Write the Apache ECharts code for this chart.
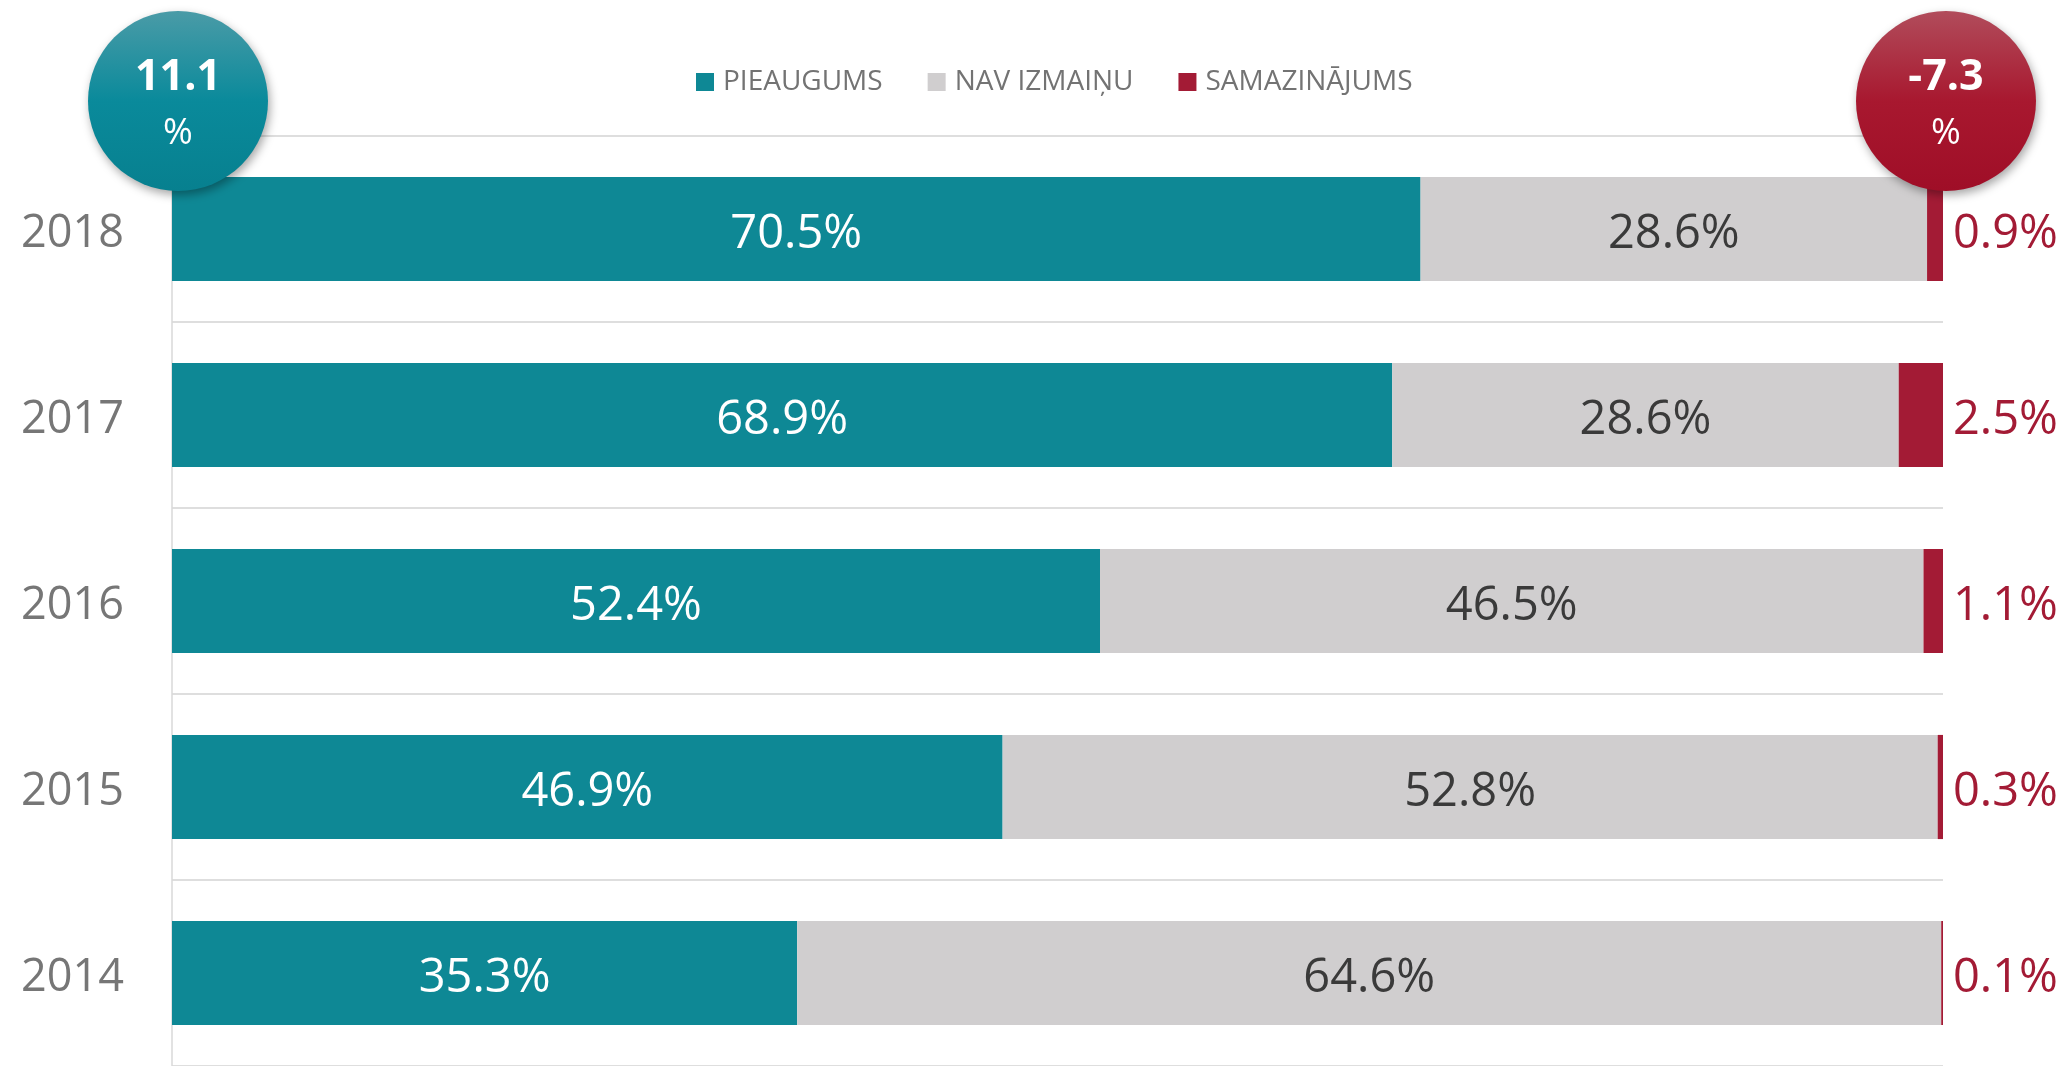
<!DOCTYPE html>
<html>
<head>
<meta charset="utf-8">
<title>Pieaugums / samazinājums</title>
<script src="https://cdn.jsdelivr.net/npm/echarts@6/dist/echarts.min.js"></script>
<style>
    html, body { margin: 0; padding: 0; background: #fff; }
    #chart { width: 2072px; height: 1066px; }
</style>
</head>
<body>
<div id="chart"></div>
<script>
// 数据
const years = ['2018', '2017', '2016', '2015', '2014'];
const increase = [70.5, 68.9, 52.4, 46.9, 35.3];
const noChange = [28.6, 28.6, 46.5, 52.8, 64.6];
const decrease = [0.9, 2.5, 1.1, 0.3, 0.1];
const seriesNames = ['PIEAUGUMS', 'NAV IZMAIŅU', 'SAMAZINĀJUMS'];
const badgeValues = ['11.1', '-7.3'];

const TEAL = '#0e8895';
const GREY = '#d0cecf';
const RED = '#a31b35';
const FONT = "'Open Sans', 'Noto Sans', sans-serif";

const chart = echarts.init(document.getElementById('chart'));

const pct = (p) => p.value.toFixed(1) + '%';

/** 圆形标记 */
const badge = (cx, value, top, bottom) => [
    {
        type: 'circle',
        z: 100,
        shape: { cx: cx, cy: 101, r: 90 },
        style: {
            fill: new echarts.graphic.LinearGradient(0, 0, 0, 1, [
                { offset: 0, color: top },
                { offset: 0.5, color: bottom[0] },
                { offset: 1, color: bottom[1] }
            ]),
            shadowBlur: 10,
            shadowOffsetX: 2,
            shadowOffsetY: 4,
            shadowColor: 'rgba(0,0,0,0.35)'
        }
    },
    {
        type: 'text',
        z: 101,
        x: cx,
        y: 78,
        style: {
            text: value,
            fill: '#fff',
            font: 'bold 43px ' + FONT,
            align: 'center',
            verticalAlign: 'middle'
        }
    },
    {
        type: 'text',
        z: 101,
        x: cx,
        y: 134,
        style: {
            text: '%',
            fill: '#fff',
            font: '36px ' + FONT,
            align: 'center',
            verticalAlign: 'middle'
        }
    }
];

const options = {
    animation: false,
    backgroundColor: '#fff',
    textStyle: { fontFamily: FONT },
    legend: {
        data: seriesNames,
        left: 696,
        top: 68,
        padding: 0,
        itemWidth: 18,
        itemHeight: 18,
        itemGap: 45,
        icon: 'rect',
        textStyle: {
            color: '#737373',
            fontSize: 28,
            padding: [0, 0, 0, 4],
            fontFamily: FONT
        }
    },
    grid: {
        left: 172,
        right: 129,
        top: 136,
        bottom: -5,
        containLabel: false
    },
    xAxis: {
        type: 'value',
        min: 0,
        max: 100,
        show: false
    },
    yAxis: {
        type: 'category',
        data: years,
        inverse: true,
        axisTick: { show: false },
        axisLine: { show: true, lineStyle: { color: '#d9d9d9', width: 1.5 } },
        axisLabel: {
            margin: 48,
            formatter: (v) => '{y|' + v + '}',
            rich: {
                y: { color: '#767676', fontSize: 45, fontFamily: FONT, padding: [10, 0, 0, 0] }
            }
        },
        splitLine: { show: true, lineStyle: { color: '#dedede', width: 2 } }
    },
    series: [
        {
            name: seriesNames[0],
            type: 'bar',
            stack: 'total',
            barCategoryGap: '44%',
            data: increase,
            itemStyle: { color: TEAL },
            label: { show: true, position: 'inside', offset: [0, 6], color: '#fff', fontSize: 47, formatter: pct }
        },
        {
            name: seriesNames[1],
            type: 'bar',
            stack: 'total',
            data: noChange,
            itemStyle: { color: GREY },
            label: { show: true, position: 'inside', offset: [0, 6], color: '#3a3a3a', fontSize: 47, formatter: pct }
        },
        {
            name: seriesNames[2],
            type: 'bar',
            stack: 'total',
            data: decrease,
            itemStyle: { color: RED },
            label: { show: true, position: 'right', distance: 10, offset: [0, 6], color: RED, fontSize: 47, formatter: pct }
        }
    ],
    graphic: [
        ...badge(178, badgeValues[0], '#4a9ba7', ['#0a8a9b', '#07808f']),
        ...badge(1946, badgeValues[1], '#b14c5b', ['#a8182f', '#9f0e27'])
    ]
};

chart.setOption(options);
</script>
</body>
</html>
